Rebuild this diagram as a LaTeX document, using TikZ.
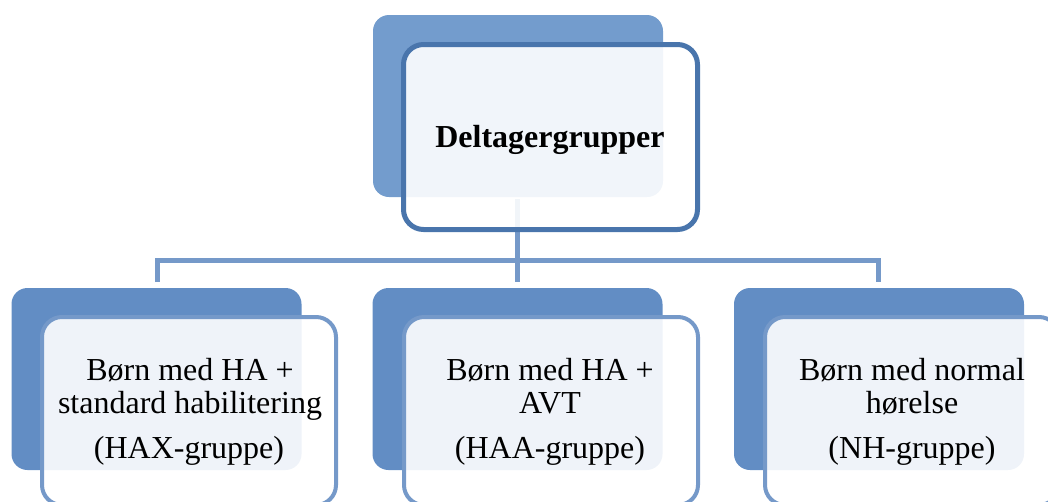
\documentclass[tikz,border=0pt]{standalone}
\usepackage{fontspec}
\setmainfont{Liberation Serif}
\definecolor{topback}{RGB}{115,156,205}
\definecolor{botback}{RGB}{98,141,196}
\definecolor{topline}{RGB}{73,117,172}
\definecolor{botline}{RGB}{117,153,201}
\definecolor{connc}{RGB}{117,153,201}
\tikzset{
  backbox/.style={rectangle, rounded corners=16pt, draw=none, minimum width=290pt, minimum height=182pt, inner sep=0pt, outer sep=0pt},
  frontbox/.style={rectangle, rounded corners=20pt, fill=white, fill opacity=0.9, minimum width=294pt, inner sep=0pt, outer sep=0pt},
  conn/.style={draw=connc, line width=5pt},
  lbl/.style={anchor=base, inner sep=0pt, font=\fontsize{32}{34}\selectfont},
  ttl/.style={anchor=base, inner sep=0pt, font=\fontsize{32}{34}\selectfont\bfseries},
}
\begin{document}
\begin{tikzpicture}[x=1pt,y=-1pt]
\useasboundingbox (0,0) rectangle (1048,501);
\clip (0,0) rectangle (1048,501);
% back boxes
\node[backbox, fill=topback] (tb) at (518,106) {};
\node[backbox, fill=botback] (b1) at (156.5,379) {};
\node[backbox, fill=botback] (b2) at (517.5,379) {};
\node[backbox, fill=botback] (b3) at (879,379) {};
% connectors
\coordinate (ctop) at (517.5,199);
\coordinate (cmid) at (517.5,260);
\coordinate (c1a) at (157,282);
\coordinate (c1b) at (157,260);
\coordinate (c3b) at (878,260);
\coordinate (c3a) at (878,282);
\coordinate (c2a) at (517.5,282);
\draw[conn] (ctop) -- (c2a);
\draw[conn] (c1a) -- (c1b) -- (c3b) -- (c3a);
% front boxes
\node[frontbox, draw=topline, draw opacity=1, line width=5pt, minimum height=185pt] (tf) at (550.5,137) {};
\node[frontbox, draw=botline, draw opacity=1, line width=4pt, minimum height=188pt] (f1) at (189,411) {};
\node[frontbox, draw=botline, draw opacity=1, line width=4pt, minimum height=188pt] (f2) at (551,411) {};
\node[frontbox, draw=botline, draw opacity=1, line width=4pt, minimum height=188pt] (f3) at (912,411) {};
% texts
\node[ttl] (title) at (550,147) {Deltagergrupper};
\node[lbl] (t1a) at (190,380) {Børn med HA +};
\node[lbl] (t1b) at (190,413) {standard habilitering};
\node[lbl] (t1c) at (189,458) {(HAX-gruppe)};
\node[lbl] (t2a) at (550,380) {Børn med HA +};
\node[lbl] (t2b) at (550,413) {AVT};
\node[lbl] (t2c) at (550,458) {(HAA-gruppe)};
\node[lbl] (t3a) at (912,380) {Børn med normal};
\node[lbl] (t3b) at (912,413) {hørelse};
\node[lbl] (t3c) at (912,458) {(NH-gruppe)};
\end{tikzpicture}
\end{document}
